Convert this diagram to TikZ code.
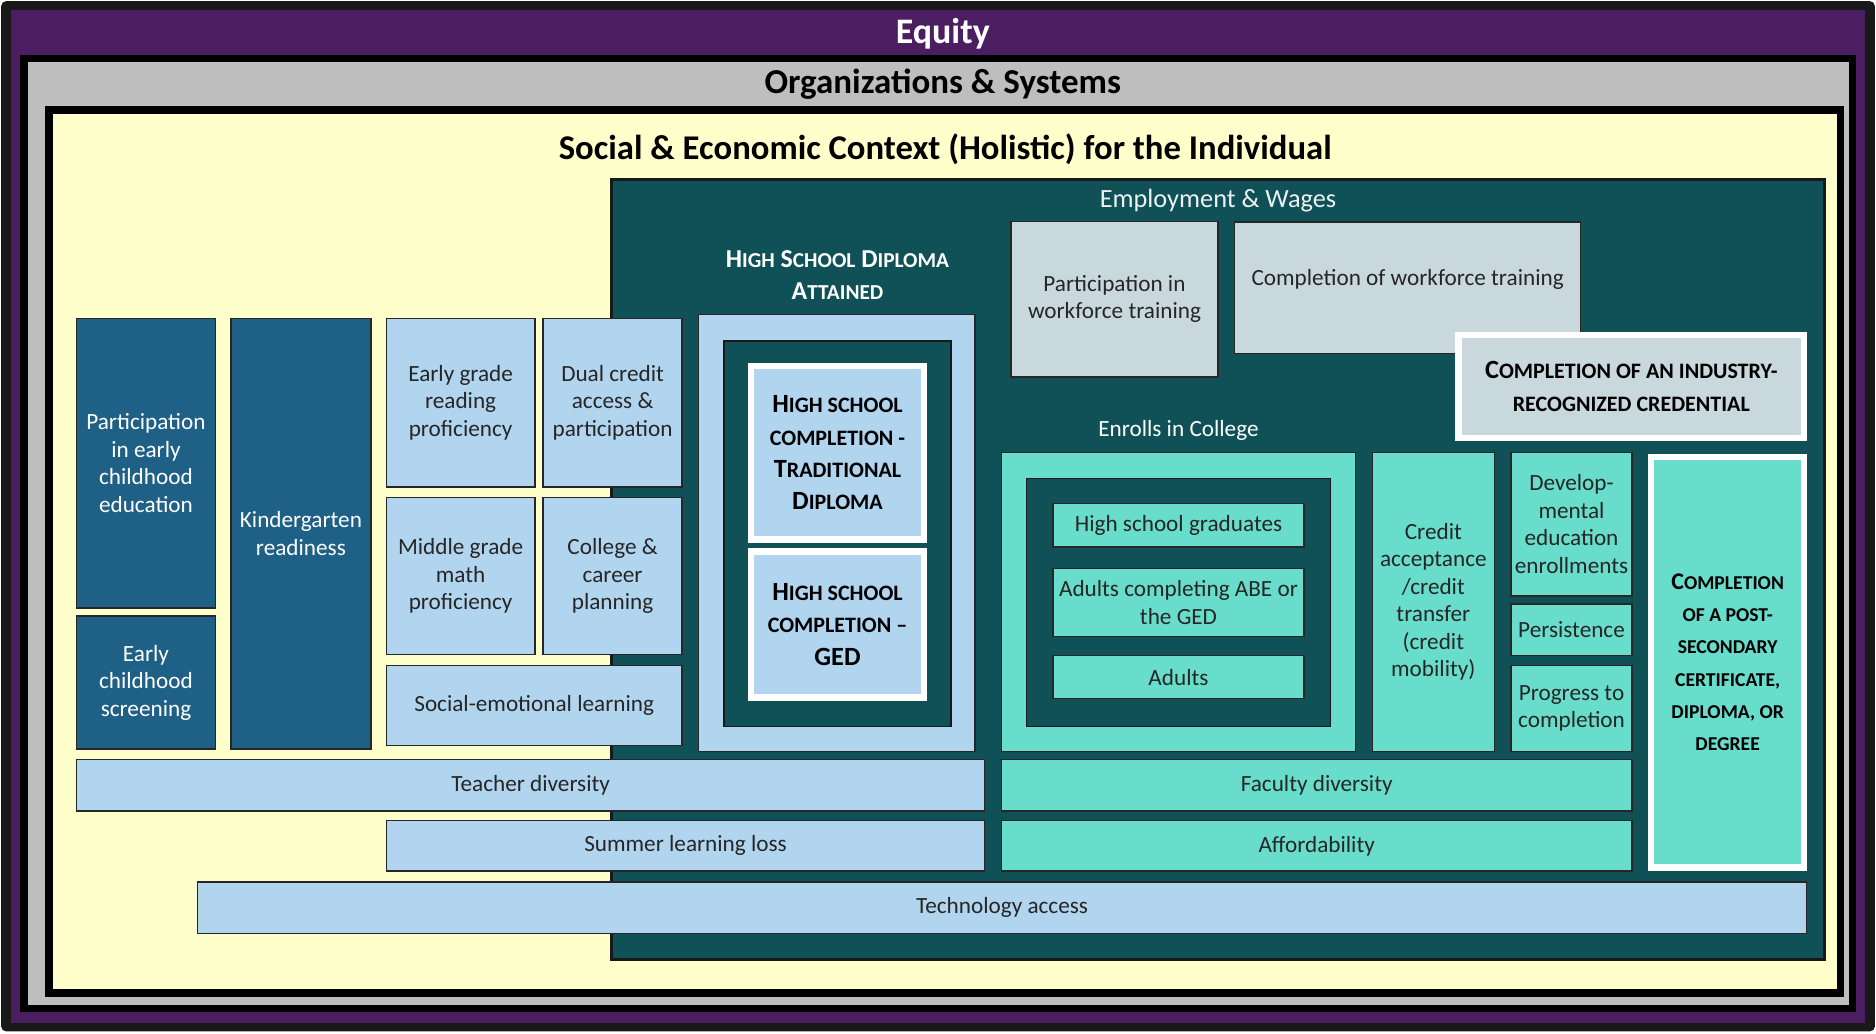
\documentclass[tikz,border=0pt]{standalone}
\usepackage{fontspec}
\setmainfont{Carlito}
\definecolor{purp}{HTML}{4A1E61}
\definecolor{grayc}{HTML}{BEBEBE}
\definecolor{yel}{HTML}{FFFFCC}
\definecolor{tealc}{HTML}{0F5156}
\definecolor{dblue}{HTML}{1F6086}
\definecolor{lblue}{HTML}{B1D5EE}
\definecolor{gblue}{HTML}{C9D8DD}
\definecolor{turq}{HTML}{68DDCB}
\definecolor{txt}{HTML}{262626}
\newcommand\sC[1]{{\fontsize{9.2}{13.5}\selectfont #1}}
\newcommand\sCs[1]{{\fontsize{8.2}{13.5}\selectfont #1}}
\newcommand\bx[7]{\node[#2,minimum width={(#5-#3)*0.5pt},minimum height={(#6-#4)*0.5pt}] (#1) at ({(#3+#5)/2},{(#4+#6)/2}) {#7};}
\tikzset{
  base/.style={inner sep=0pt, align=center, font=\fontsize{9.7}{11.5}\selectfont, line width=0.6pt},
  dk/.style={base, draw=black!85, fill=dblue, text=white},
  lb/.style={base, draw=black!85, fill=lblue, text=txt},
  gb/.style={base, draw=black!85, fill=gblue, text=txt},
  tq/.style={base, draw=black!85, fill=turq, text=txt},
  tl/.style={base, draw=black!90, fill=tealc},
  wb/.style={base, draw=white, line width=2.6pt, text=black, font=\bfseries\fontsize{11}{13.5}\selectfont},
  lbl/.style={inner sep=0pt, align=center},
}
\begin{document}
\begin{tikzpicture}[x=0.5pt,y=-0.5pt]
\useasboundingbox (0,0) rectangle (1568,863.4);
% outer frames
\fill[black!90, rounded corners=2pt] (1,1) rectangle (1567,862);
\fill[purp] (9,8) rectangle (1559,855);
\node[lbl, text=white, font=\bfseries\fontsize{15}{18}\selectfont] (equity) at (788,28) {Equity};
\fill[black] (17,46) rectangle (1551,846);
\fill[grayc] (23,52) rectangle (1545,840);
\node[lbl, text=black, font=\bfseries\fontsize{14.6}{17}\selectfont] (org) at (788,70) {Organizations \& Systems};
\fill[black] (38,89) rectangle (1541,833);
\fill[yel] (44,95) rectangle (1535,827);
\node[lbl, text=black, font=\bfseries\fontsize{14.5}{17}\selectfont] (sec) at (790,125) {Social \& Economic Context (Holistic) for the Individual};
% employment & wages
\bx{emp}{tl, line width=1.2pt}{511}{150}{1525}{802}{}
\node[lbl, text=white!92!tealc, font=\fontsize{11}{13}\selectfont] (empt) at (1018,168) {Employment \& Wages};
% left column
\bx{pece}{dk}{64}{266}{180}{508}{Participation\\in early\\childhood\\education}
\bx{ecs}{dk}{64}{515}{180}{626}{Early\\childhood\\screening}
\bx{kr}{dk}{193}{266}{310}{626}{Kindergarten\\readiness}
\bx{egr}{lb}{323}{266}{447}{407}{Early grade\\reading\\proficiency}
\bx{dca}{lb}{454}{266}{570}{407}{Dual credit\\access \&\\participation}
\bx{mgm}{lb}{323}{416}{447}{547}{Middle grade\\math\\proficiency}
\bx{ccp}{lb}{454}{416}{570}{547}{College \&\\career\\planning}
\bx{sel}{lb}{323}{556}{570}{623}{Social-emotional learning}
% high school
\node[lbl, text=white, font=\bfseries\fontsize{10.8}{13.5}\selectfont] (hsdt) at (700,230) {H{\fontsize{8.9}{13.5}\selectfont IGH} S{\fontsize{8.9}{13.5}\selectfont CHOOL} D{\fontsize{8.9}{13.5}\selectfont IPLOMA}\\A{\fontsize{8.9}{13.5}\selectfont TTAINED}};
\bx{hs}{lb}{584}{263}{815}{628}{}
\bx{hsi}{tl}{605}{285}{795}{607}{}
\bx{hstd}{wb, fill=lblue}{628}{306}{772}{451}{H\sC{IGH SCHOOL}\\\sC{COMPLETION -}\\T\sC{RADITIONAL}\\D\sC{IPLOMA}}
\bx{hsged}{wb, fill=lblue}{628}{461}{772}{583}{H\sC{IGH SCHOOL}\\\sC{COMPLETION --}\\GED}
% bottom bars
\bx{td}{lb}{64}{635}{823}{678}{Teacher diversity}
\bx{sll}{lb}{323}{686}{823}{728}{Summer learning loss}
% workforce
\bx{pwt}{gb}{845}{185}{1018}{315}{Participation in\\workforce training}
\node[base, draw=black!85, fill=gblue, text=txt, minimum width={(1321-1032)*0.5pt}, text height=26.5pt, text depth=28.5pt, anchor=north] (cwt) at (1176.5,185) {Completion of workforce training};
\bx{circ}{wb, fill=gblue}{1219}{280}{1508}{366}{C\sC{OMPLETION OF AN INDUSTRY-}\\\sC{RECOGNIZED CREDENTIAL}}
% college
\node[lbl, text=white, font=\fontsize{9.7}{11.5}\selectfont] (eict) at (985,360) {Enrolls in College};
\bx{eic}{tq}{837}{378}{1133}{628}{}
\bx{eici}{tl}{858}{400}{1112}{607}{}
\bx{hsg}{tq}{880}{421}{1090}{457}{High school graduates}
\bx{abe}{tq}{880}{475}{1090}{532}{Adults completing ABE or\\the GED}
\bx{adu}{tq}{880}{548}{1090}{584}{Adults}
\bx{cat}{tq}{1147}{378}{1249}{628}{Credit\\acceptance\\/credit\\transfer\\(credit\\mobility)}
\bx{dee}{tq}{1263}{378}{1364}{498}{Develop-\\mental\\education\\enrollments}
\bx{per}{tq}{1263}{505}{1364}{548}{Persistence}
\bx{ptc}{tq}{1263}{556}{1364}{628}{Progress to\\completion}
\bx{cps}{wb, fill=turq, font=\bfseries\fontsize{10}{13.5}\selectfont}{1380}{382}{1508}{725}{C\sCs{OMPLETION}\\\sCs{OF A POST-}\\\sCs{SECONDARY}\\\sCs{CERTIFICATE,}\\\sCs{DIPLOMA, OR}\\\sCs{DEGREE}}
\bx{fd}{tq}{837}{635}{1364}{678}{Faculty diversity}
\bx{aff}{tq}{837}{686}{1364}{728}{Affordability}
% technology
\bx{tech}{lb}{165}{737}{1510}{780}{Technology access}
\end{tikzpicture}
\end{document}
